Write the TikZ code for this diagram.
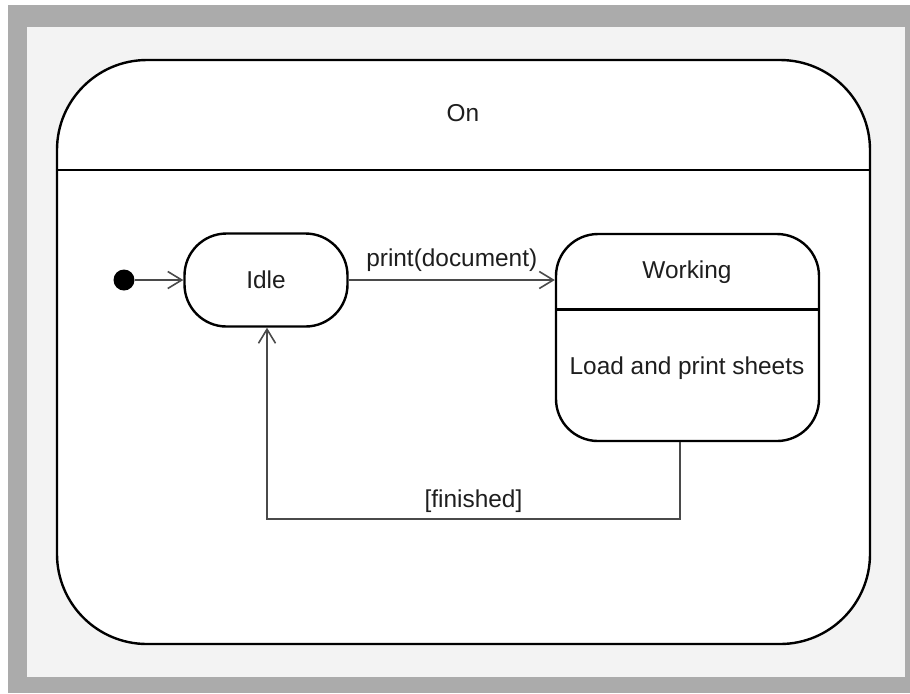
\documentclass[tikz,border=0pt]{standalone}
\usepackage{fontspec}
\setmainfont{Liberation Sans}
\usetikzlibrary{arrows.meta,calc}
\definecolor{frame}{HTML}{ABABAB}
\definecolor{panel}{HTML}{F3F3F3}
\definecolor{ink}{HTML}{1E1E1E}
\definecolor{wire}{HTML}{4A4A4A}
\begin{document}
\begin{tikzpicture}[x=0.5pt,y=-0.5pt,
  font=\fontsize{12.2}{14}\selectfont,
  text=ink,
  statebox/.style={draw=black, line width=1.2pt, fill=white, inner sep=0pt},
  trans/.style={draw=wire, line width=0.8pt, -{Straight Barb[length=7pt,width=8.5pt,line width=0.8pt]}},
  tlabel/.style={inner sep=2pt, text=ink}
]
% page, grey frame and light panel
\useasboundingbox (0,0) rectangle (910,693);
\fill[white] (0,0) rectangle (910,693);
\fill[frame] (8,5) rectangle (910,693);
\fill[panel] (27,27) rectangle (905,677);

% composite state "On"
\node[statebox, rounded corners=45pt, minimum width=406.5pt, minimum height=292pt] (on) at (463.5,352) {};
\draw[line width=1.2pt] ($(on.north west)!0.19!(on.south west)$) -- ($(on.north east)!0.19!(on.south east)$);
\node (ontitle) at (463,113) {On};

% initial pseudostate
\node[circle, fill=black, inner sep=0pt, minimum size=10.5pt] (init) at (124,280) {};

% simple state Idle
\node[statebox, rounded corners=21pt, minimum width=81.5pt, minimum height=46.5pt] (idle) at (266,280) {};
\node (idletxt) at (266,280) {Idle};

% state Working with its internal activity
\node[statebox, rounded corners=21pt, minimum width=131.5pt, minimum height=103.5pt] (work) at (687.5,337.5) {};
\draw[line width=1.2pt] ($(work.north west)!0.367!(work.south west)$) -- ($(work.north east)!0.367!(work.south east)$);
\node (worktitle) at (687,272) {Working};
\node (workdo) at (687,368) {Load and print sheets};

% transitions
\draw[trans] (init) -- (idle);
\draw[trans] (idle.east) -- node[tlabel, above, yshift=2pt] {print(document)} (idle.east -| work.west);
\coordinate (fdown) at (680,519);
\coordinate (fleft) at (267,519);
\draw[trans] (work.south -| fdown) -- (fdown) -- node[tlabel, above, yshift=1pt] {[finished]} (fleft) -- (fleft |- idle.south);
\end{tikzpicture}
\end{document}
